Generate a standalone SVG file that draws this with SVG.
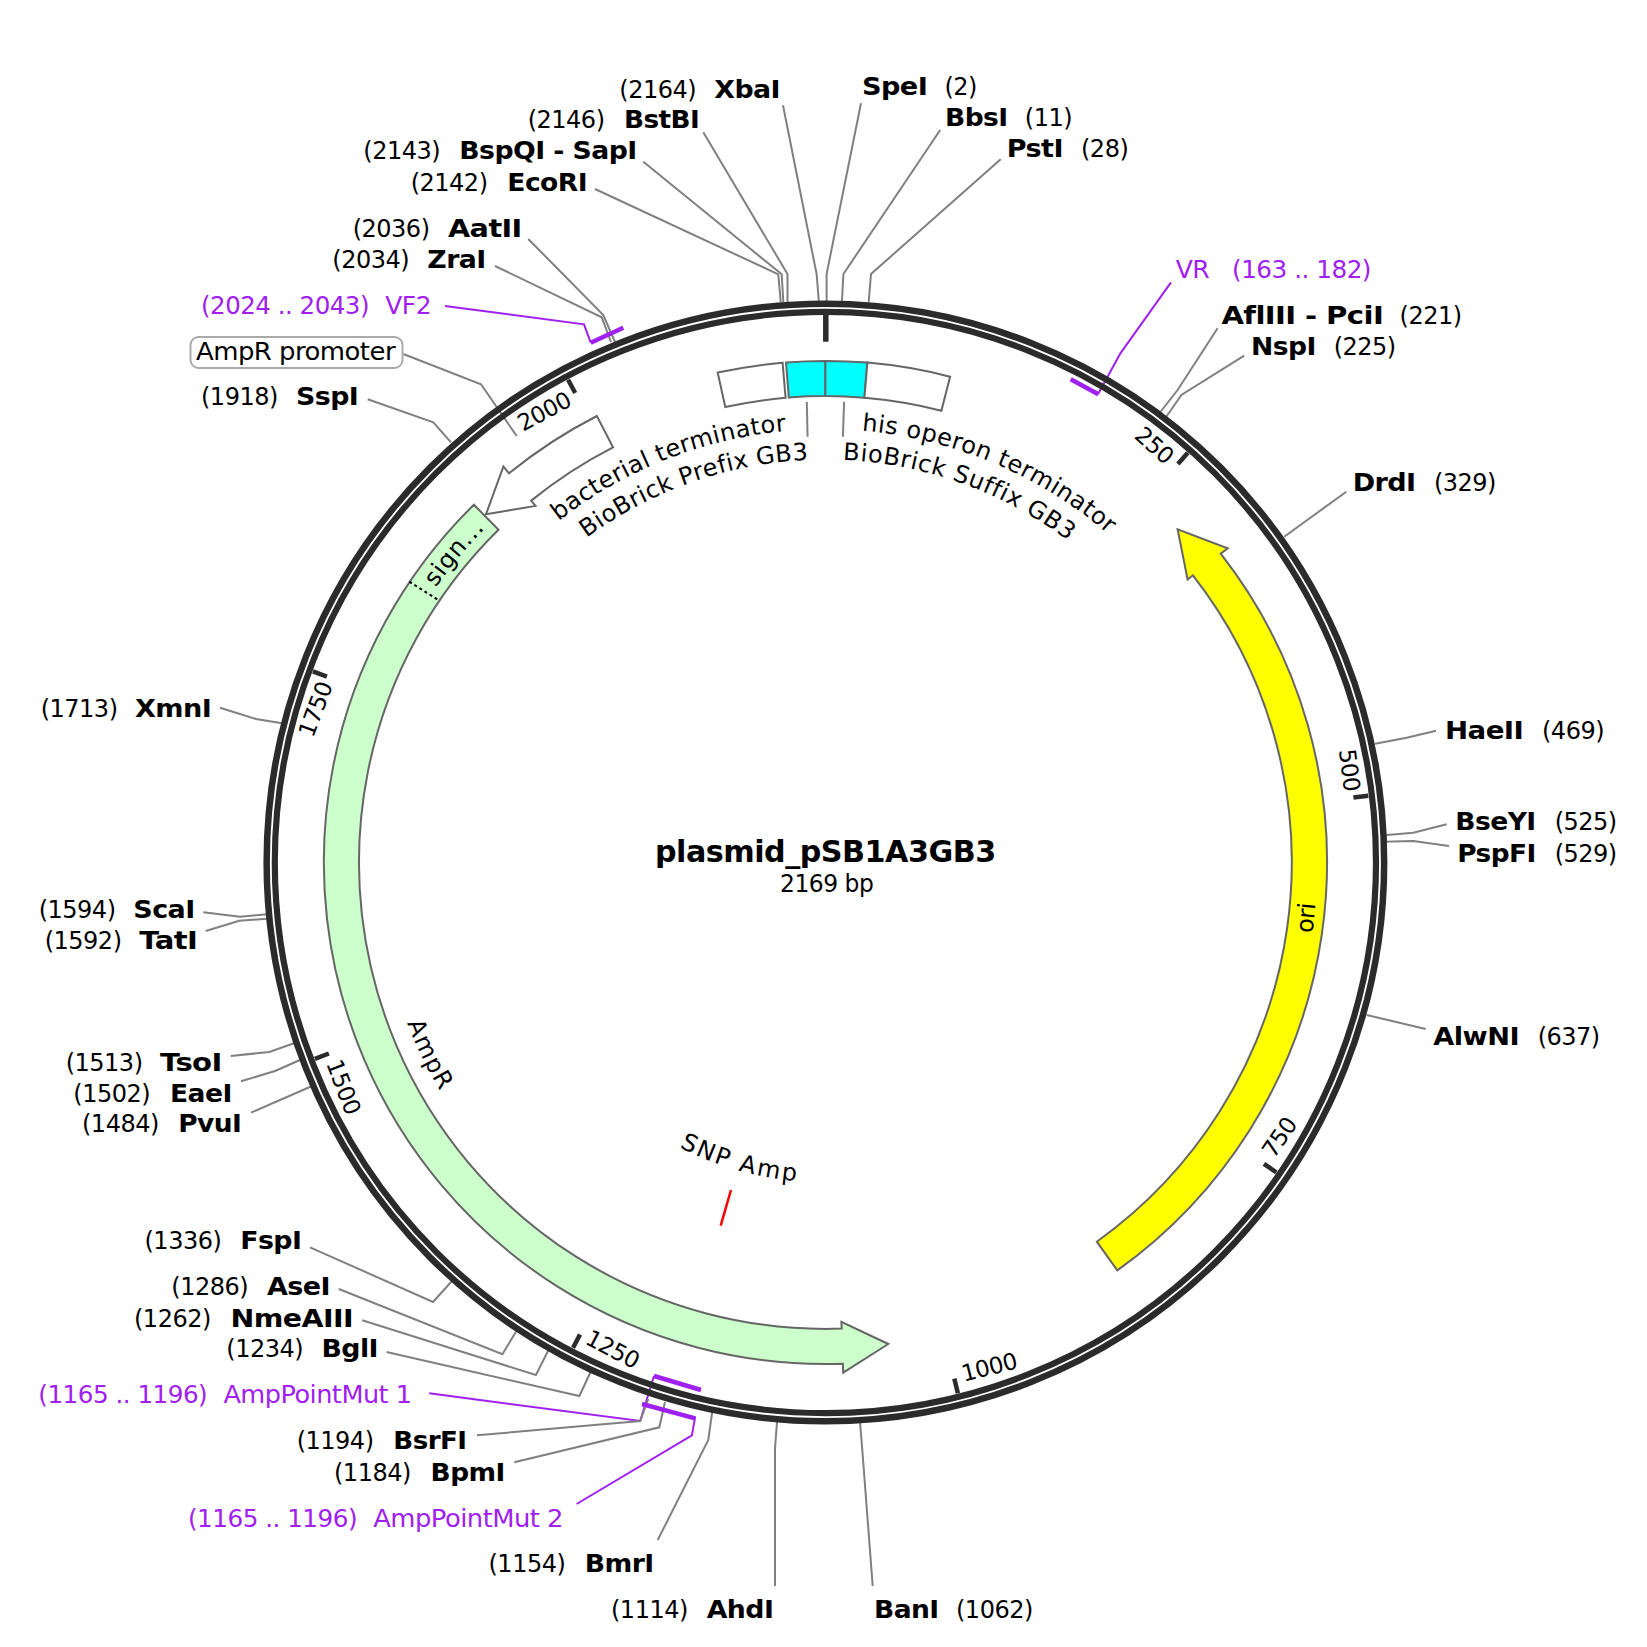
<svg xmlns="http://www.w3.org/2000/svg" width="1647" height="1647" viewBox="0 0 1647 1647">
<style>
text{font-family:"DejaVu Sans","Verdana",sans-serif;font-size:24px;letter-spacing:-.5px;fill:#000}
.n{font-weight:bold}
.u{fill:#a020f0}
.k{font-size:23px;text-anchor:middle}
.c{fill:none;stroke:#808080;stroke-width:2}
.v{fill:none;stroke:#a020f0;stroke-width:2}
.b{fill:none;stroke:#a020f0;stroke-width:4.5}
.f{stroke:#666;stroke-width:2}
.t{stroke:#2b2b2b;stroke-width:4.5}
.r{fill:none;stroke:#2b2b2b}
</style>
<defs>
<path id="top433" d="M391.9,862.5A433.5,433.5 0 0 1 1258.9,862.5"/>
<path id="top403" d="M422.4,862.5A403,403 0 0 1 1228.4,862.5"/>
<path id="top477" d="M348.4,862.5A477,477 0 0 1 1302.4,862.5"/>
<path id="bot320" d="M505.4,862.5A320,320 0 0 0 1145.4,862.5"/>
<path id="bot448" d="M377.4,862.5A448,448 0 0 0 1273.4,862.5"/>
</defs>
<rect width="1647" height="1647" fill="#fff"/>
<g id="connectors">
<polyline class="c" points="861,103.3 826.6,274 826.6,302"/>
<polyline class="c" points="783,105.3 816.6,274 818.9,302"/>
<polyline class="c" points="940.2,130 843.4,274 841.9,302"/>
<polyline class="c" points="1000.7,159.3 871,274 868.7,302"/>
<polyline class="c" points="703.3,132.3 787.5,274 787.5,302"/>
<polyline class="c" points="643.3,161.7 781.7,274.3 783.3,302"/>
<polyline class="c" points="595,189 778.3,274.3 780.7,302"/>
<polyline class="c" points="528.3,239 603.3,315 615,342"/>
<polyline class="c" points="495,266 601.7,317.3 611,342"/>
<polyline class="v" points="445,306 584,324.3 590.7,342.7"/>
<polyline class="c" points="403.3,354 481,384.3 516.7,436"/>
<polyline class="c" points="367.7,399.3 433.3,422.3 451,442.3"/>
<polyline class="v" points="1171,282.3 1120.4,353.3 1098,394.3"/>
<polyline class="c" points="1217.6,328.3 1177.6,390 1160.4,412"/>
<polyline class="c" points="1244.2,355.7 1181.4,395 1166.1,417"/>
<polyline class="c" points="1346.3,491.7 1284.2,536.7"/>
<polyline class="c" points="1436,730.7 1406.7,737.7 1375,743.7"/>
<polyline class="c" points="1446.7,824.3 1413.3,832.7 1384,835.3"/>
<polyline class="c" points="1449,846 1413.3,841 1384,841.7"/>
<polyline class="c" points="1425.7,1029 1366.7,1015"/>
<polyline class="c" points="872.7,1586 862.3,1450 860,1422"/>
<polyline class="c" points="775,1586 775,1448.3 777,1422"/>
<polyline class="c" points="657.7,1540 708.3,1440 712.3,1411"/>
<polyline class="c" points="220,707.7 256,719 282,723.3"/>
<polyline class="c" points="203.3,912.3 240,916.7 267,914.3"/>
<polyline class="c" points="205.7,931 239.3,920.7 267,918.7"/>
<polyline class="c" points="230.7,1056 269.3,1052 294,1043.3"/>
<polyline class="c" points="241,1081.3 275,1071 300,1060"/>
<polyline class="c" points="251,1112.7 311,1086.5"/>
<polyline class="c" points="310,1247.3 433,1302 452,1281"/>
<polyline class="c" points="338.8,1289 502.4,1354.3 517,1330"/>
<polyline class="c" points="362.2,1320.3 535.9,1375 549,1349"/>
<polyline class="c" points="386.6,1352 579.4,1396 591,1371"/>
<polyline class="v" points="429.2,1393.3 640.2,1421 654,1376"/>
<polyline class="c" points="477,1435.3 640.2,1421 648.3,1399"/>
<polyline class="c" points="514.3,1462.3 659.3,1427.3 665,1402"/>
<polyline class="v" points="576.6,1504 691.9,1435.3 695.2,1416.7"/>
<line class="c" x1="806.8" y1="401.7" x2="807.6" y2="436.7"/>
<line class="c" x1="844.1" y1="401.7" x2="842.9" y2="436.7"/>
</g>
<g id="backbone">
<circle class="r" cx="825.4" cy="862.5" r="558.75" stroke-width="6.5"/>
<circle class="r" cx="825.4" cy="862.5" r="550.6" stroke-width="6.2"/>
<line x1="825.8" y1="315" x2="825.8" y2="341.7" stroke="#2b2b2b" stroke-width="5.5"/>
<line class="t" x1="1187.8" y1="452.8" x2="1177.9" y2="464"/>
<line class="t" x1="1368.3" y1="795.8" x2="1353.4" y2="797.6"/>
<line class="t" x1="1276.3" y1="1172.3" x2="1263.9" y2="1163.8"/>
<line class="t" x1="957.9" y1="1393.2" x2="954.3" y2="1378.6"/>
<line class="t" x1="573.1" y1="1347.8" x2="580" y2="1334.5"/>
<line class="t" x1="314.9" y1="1058.9" x2="328.9" y2="1053.5"/>
<line class="t" x1="312.9" y1="671.4" x2="326.9" y2="676.6"/>
<line class="t" x1="568.1" y1="379.8" x2="575.2" y2="393"/>
<text class="k" transform="translate(1154.7 445) rotate(41.5)" y="8.5">250</text>
<text class="k" transform="translate(1350 770) rotate(83)" y="8.5">500</text>
<text class="k" transform="translate(1279 1137) rotate(-55.5)" y="8.5">750</text>
<text class="k" transform="translate(989 1366.7) rotate(-14)" y="8.5">1000</text>
<text class="k" transform="translate(613 1348.7) rotate(27.5)" y="8.5">1250</text>
<text class="k" transform="translate(344 1086.7) rotate(69)" y="8.5">1500</text>
<text class="k" transform="translate(315 709) rotate(-69.5)" y="8.5">1750</text>
<text class="k" transform="translate(544 411) rotate(-28)" y="8.5">2000</text>
</g>
<g id="primer-brackets">
<line class="b" x1="590.7" y1="342.7" x2="623.3" y2="327.7"/>
<line class="b" x1="1070.7" y1="379.3" x2="1098.3" y2="394.3"/>
<line class="b" x1="654" y1="1376" x2="701" y2="1390"/>
<line class="b" x1="642" y1="1404" x2="695.2" y2="1418.3"/>
</g>
<g id="feature-AmpR">
<path class="f" fill="#ccffcc" d="M473.9,504.7A501.6,501.6 0 0 0 842.9,1363.8L843.2,1372.7L888.3,1344L841.4,1321.8L841.7,1328.6A466.4,466.4 0 0 1 498.5,529.8Z"/>
<line x1="409.3" y1="581.7" x2="438.3" y2="600" stroke="#000" stroke-width="2" stroke-dasharray="3 3"/>
<text style="letter-spacing:.7px"><textPath href="#top477" startOffset="19.56%">sign...</textPath></text>
<text style="letter-spacing:1.2px"><textPath href="#bot448" startOffset="11.67%">AmpR</textPath></text>
</g>
<g id="feature-ori">
<path class="f" fill="#ffff00" d="M1117.3,1270.4A501.6,501.6 0 0 0 1220.7,553.7L1227.7,548.2L1177.6,529.3L1187.6,579.5L1192.9,575.3A466.4,466.4 0 0 1 1096.8,1241.7Z"/>
<text transform="translate(1306 918) rotate(-84)" y="8" text-anchor="middle">ori</text>
</g>
<g id="feature-bacterial-terminator">
<path class="f" fill="#fff" d="M596.9,416A501.6,501.6 0 0 0 509,473.3L503.4,466.4L486,514.3L535.5,505.9L531.2,500.6A466.4,466.4 0 0 1 613,447.3Z"/>
<text style="letter-spacing:.4px"><textPath href="#top433" startOffset="28.89%">bacterial terminator</textPath></text>
</g>
<g id="feature-terminator-left">
<path class="f" fill="#fff" d="M717.7,372.6A501.6,501.6 0 0 1 782.6,362.7L785.6,397.8A466.4,466.4 0 0 0 725.3,407Z"/>
</g>
<g id="feature-BioBrick-Prefix">
<path class="f" fill="#00ffff" d="M786,362.4A501.6,501.6 0 0 1 825.4,360.9L825.4,396.1A466.4,466.4 0 0 0 788.8,397.5Z"/>
<text style="letter-spacing:.4px"><textPath href="#top403" startOffset="29.8%">BioBrick Prefix GB3</textPath></text>
</g>
<g id="feature-BioBrick-Suffix">
<path class="f" fill="#00ffff" d="M825.4,360.9A501.6,501.6 0 0 1 867.4,362.6L864.4,397.7A466.4,466.4 0 0 0 825.4,396.1Z"/>
<text style="letter-spacing:.6px"><textPath href="#top403" startOffset="51.39%">BioBrick Suffix GB3</textPath></text>
</g>
<g id="feature-his-operon-terminator">
<path class="f" fill="#fff" d="M867.4,362.6A501.6,501.6 0 0 1 950.1,376.7L941.4,410.7A466.4,466.4 0 0 0 864.4,397.7Z"/>
<text style="letter-spacing:.5px"><textPath href="#top433" startOffset="52.67%">his operon terminator</textPath></text>
</g>
<g id="feature-SNP-Amp">
<line x1="731" y1="1190" x2="720.7" y2="1225.7" stroke="#ff0000" stroke-width="2.5"/>
<text style="letter-spacing:2px"><textPath href="#bot320" startOffset="34.9%">SNP Amp</textPath></text>
</g>
<g id="center-label">
<text class="n" x="655" y="862.3" style="font-size:30px" textLength="340.7" lengthAdjust="spacingAndGlyphs">plasmid_pSB1A3GB3</text>
<text x="780" y="891.7" textLength="93.3" lengthAdjust="spacingAndGlyphs">2169 bp</text>
</g>
<g id="site-XbaI"><text x="619.3" y="97.7">(2164)</text><text class="n" x="714.3" y="97.7" textLength="65.7" lengthAdjust="spacingAndGlyphs">XbaI</text></g>
<g id="site-BstBI"><text x="527.7" y="128.3">(2146)</text><text class="n" x="624" y="128.3" textLength="75.3" lengthAdjust="spacingAndGlyphs">BstBI</text></g>
<g id="site-BspQI-SapI"><text x="363.3" y="159.3">(2143)</text><text class="n" x="459.3" y="159.3" textLength="177.4" lengthAdjust="spacingAndGlyphs">BspQI - SapI</text></g>
<g id="site-EcoRI"><text x="410.7" y="191.3">(2142)</text><text class="n" x="507.3" y="191.3" textLength="79.7" lengthAdjust="spacingAndGlyphs">EcoRI</text></g>
<g id="site-AatII"><text x="352.7" y="237.3">(2036)</text><text class="n" x="448" y="237.3" textLength="73.7" lengthAdjust="spacingAndGlyphs">AatII</text></g>
<g id="site-ZraI"><text x="332.3" y="268.3">(2034)</text><text class="n" x="427.3" y="268.3" textLength="58.4" lengthAdjust="spacingAndGlyphs">ZraI</text></g>
<g id="primer-VF2"><text class="u" x="201" y="314.3" textLength="168" lengthAdjust="spacingAndGlyphs">(2024 .. 2043)</text><text class="u" x="385.3" y="314.3" textLength="45.7" lengthAdjust="spacingAndGlyphs">VF2</text></g>
<g id="feature-AmpR-promoter"><rect x="190.5" y="337" width="212" height="31" rx="8" fill="#fff" stroke="#aaa" stroke-width="2"/><text x="196" y="360" textLength="199" lengthAdjust="spacingAndGlyphs">AmpR promoter</text></g>
<g id="site-SspI"><text x="201" y="405">(1918)</text><text class="n" x="296" y="405" textLength="62.3" lengthAdjust="spacingAndGlyphs">SspI</text></g>
<g id="site-SpeI"><text class="n" x="862" y="95" textLength="65.2" lengthAdjust="spacingAndGlyphs">SpeI</text><text x="944.4" y="95">(2)</text></g>
<g id="site-BbsI"><text class="n" x="945" y="126" textLength="62.6" lengthAdjust="spacingAndGlyphs">BbsI</text><text x="1024.8" y="126">(11)</text></g>
<g id="site-PstI"><text class="n" x="1006.8" y="157.3" textLength="56.2" lengthAdjust="spacingAndGlyphs">PstI</text><text x="1081" y="157.3">(28)</text></g>
<g id="primer-VR"><text class="u" x="1175.7" y="278.3" textLength="33.5" lengthAdjust="spacingAndGlyphs">VR</text><text class="u" x="1232" y="278.3" textLength="139" lengthAdjust="spacingAndGlyphs">(163 .. 182)</text></g>
<g id="site-AflIII-PciI"><text class="n" x="1221.4" y="324" textLength="161.8" lengthAdjust="spacingAndGlyphs">AflIII - PciI</text><text x="1399.6" y="324">(221)</text></g>
<g id="site-NspI"><text class="n" x="1251" y="355.3" textLength="64.8" lengthAdjust="spacingAndGlyphs">NspI</text><text x="1333.7" y="355.3">(225)</text></g>
<g id="site-DrdI"><text class="n" x="1352.7" y="491.3" textLength="62.9" lengthAdjust="spacingAndGlyphs">DrdI</text><text x="1433.9" y="491.3">(329)</text></g>
<g id="site-HaeII"><text class="n" x="1445" y="739.3" textLength="78.3" lengthAdjust="spacingAndGlyphs">HaeII</text><text x="1542" y="739.3">(469)</text></g>
<g id="site-BseYI"><text class="n" x="1455.3" y="830.3" textLength="80.4" lengthAdjust="spacingAndGlyphs">BseYI</text><text x="1554.7" y="830.3">(525)</text></g>
<g id="site-PspFI"><text class="n" x="1457.3" y="862.3" textLength="78.4" lengthAdjust="spacingAndGlyphs">PspFI</text><text x="1554.7" y="862.3">(529)</text></g>
<g id="site-AlwNI"><text class="n" x="1433.3" y="1045.3" textLength="85.7" lengthAdjust="spacingAndGlyphs">AlwNI</text><text x="1537.7" y="1045.3">(637)</text></g>
<g id="site-XmnI"><text x="40.7" y="716.7">(1713)</text><text class="n" x="135" y="716.7" textLength="76.3" lengthAdjust="spacingAndGlyphs">XmnI</text></g>
<g id="site-ScaI"><text x="38.7" y="918.3">(1594)</text><text class="n" x="133.3" y="918.3" textLength="61.4" lengthAdjust="spacingAndGlyphs">ScaI</text></g>
<g id="site-TatI"><text x="44.7" y="949.3">(1592)</text><text class="n" x="139.3" y="949.3" textLength="58" lengthAdjust="spacingAndGlyphs">TatI</text></g>
<g id="site-TsoI"><text x="65.7" y="1070.7">(1513)</text><text class="n" x="160" y="1070.7" textLength="61.7" lengthAdjust="spacingAndGlyphs">TsoI</text></g>
<g id="site-EaeI"><text x="73.3" y="1101.7">(1502)</text><text class="n" x="170" y="1101.7" textLength="61.7" lengthAdjust="spacingAndGlyphs">EaeI</text></g>
<g id="site-PvuI"><text x="82" y="1132.3">(1484)</text><text class="n" x="178.3" y="1132.3" textLength="63" lengthAdjust="spacingAndGlyphs">PvuI</text></g>
<g id="site-FspI"><text x="144.5" y="1249.3">(1336)</text><text class="n" x="240.2" y="1249.3" textLength="61.2" lengthAdjust="spacingAndGlyphs">FspI</text></g>
<g id="site-AseI"><text x="171.3" y="1295.3">(1286)</text><text class="n" x="267" y="1295.3" textLength="63" lengthAdjust="spacingAndGlyphs">AseI</text></g>
<g id="site-NmeAIII"><text x="134" y="1326.7">(1262)</text><text class="n" x="230.6" y="1326.7" textLength="122.4" lengthAdjust="spacingAndGlyphs">NmeAIII</text></g>
<g id="site-BglI"><text x="226.3" y="1357.3">(1234)</text><text class="n" x="321.5" y="1357.3" textLength="56.5" lengthAdjust="spacingAndGlyphs">BglI</text></g>
<g id="primer-AmpPointMut-1"><text class="u" x="38.3" y="1403.3" textLength="168.9" lengthAdjust="spacingAndGlyphs">(1165 .. 1196)</text><text class="u" x="223.4" y="1403.3" textLength="188.1" lengthAdjust="spacingAndGlyphs">AmpPointMut 1</text></g>
<g id="site-BsrFI"><text x="296.7" y="1449.3">(1194)</text><text class="n" x="393.3" y="1449.3" textLength="73.2" lengthAdjust="spacingAndGlyphs">BsrFI</text></g>
<g id="site-BpmI"><text x="334" y="1480.7">(1184)</text><text class="n" x="430.6" y="1480.7" textLength="74.2" lengthAdjust="spacingAndGlyphs">BpmI</text></g>
<g id="primer-AmpPointMut-2"><text class="u" x="188" y="1526.7" textLength="169" lengthAdjust="spacingAndGlyphs">(1165 .. 1196)</text><text class="u" x="373.2" y="1526.7" textLength="189.8" lengthAdjust="spacingAndGlyphs">AmpPointMut 2</text></g>
<g id="site-BmrI"><text x="488.5" y="1572.3">(1154)</text><text class="n" x="584.7" y="1572.3" textLength="68.9" lengthAdjust="spacingAndGlyphs">BmrI</text></g>
<g id="site-AhdI"><text x="611" y="1618.3">(1114)</text><text class="n" x="706.7" y="1618.3" textLength="66.6" lengthAdjust="spacingAndGlyphs">AhdI</text></g>
<g id="site-BanI"><text class="n" x="874" y="1618.3" textLength="64.7" lengthAdjust="spacingAndGlyphs">BanI</text><text x="956" y="1618.3">(1062)</text></g>
</svg>
